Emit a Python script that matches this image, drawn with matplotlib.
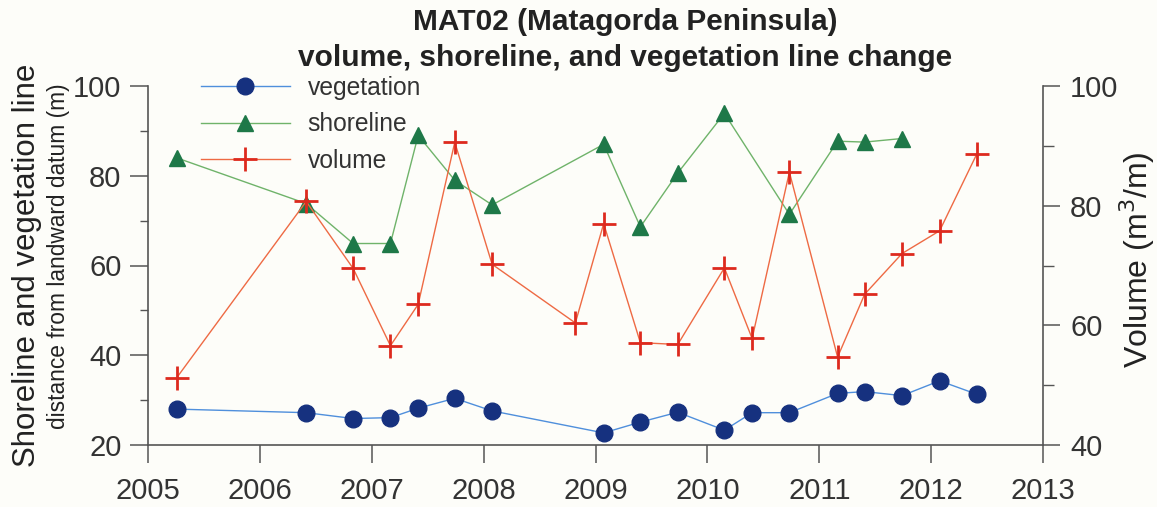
import matplotlib
matplotlib.use("Agg")
import matplotlib.pyplot as plt
from matplotlib.ticker import MultipleLocator

plt.rcParams['font.family'] = ['Liberation Sans', 'DejaVu Sans']

# ---- data ----
veg_dates = [2005.255, 2006.414, 2006.834, 2007.167, 2007.415, 2007.742, 2008.076,
             2009.073, 2009.401, 2009.735, 2010.152, 2010.400, 2010.733, 2011.164,
             2011.406, 2011.740, 2012.076, 2012.410]
veg_vals = [28.0, 27.2, 25.9, 26.1, 28.2, 30.4, 27.6,
            22.7, 25.1, 27.3, 23.3, 27.2, 27.2, 31.5,
            31.9, 31.0, 34.3, 31.3]

shore_dates = [2005.255, 2006.414, 2006.834, 2007.167, 2007.415, 2007.742, 2008.076,
               2009.073, 2009.401, 2009.735, 2010.152, 2010.733, 2011.164, 2011.406,
               2011.740]
shore_vals = [84.0, 73.8, 64.9, 64.9, 89.0, 79.0, 73.5,
              87.0, 68.6, 80.6, 93.9, 71.4, 87.7, 87.5,
              88.3]

vol_dates = [2005.255, 2006.414, 2006.834, 2007.167, 2007.415, 2007.742, 2008.076,
             2008.820, 2009.073, 2009.401, 2009.735, 2010.152, 2010.400, 2010.733,
             2011.164, 2011.406, 2011.740, 2012.076, 2012.410]
vol_vals = [51.2, 80.7, 69.5, 56.6, 63.5, 90.6, 70.2,
            60.4, 77.0, 57.1, 56.8, 69.6, 57.8, 85.6,
            54.7, 65.2, 72.0, 75.8, 88.7]

x_ticks = [2005, 2006, 2007, 2008, 2009, 2010, 2011, 2012, 2013]
left_ticks = [20, 40, 60, 80, 100]
right_ticks = [40, 60, 80, 100]

title_lines = ["MAT02 (Matagorda Peninsula)", "volume, shoreline, and vegetation line change"]
labels = ["vegetation", "shoreline", "volume"]

# ---- figure ----
W, H = 1157, 507
bg = '#fdfdf9'
fig = plt.figure(figsize=(W / 100, H / 100), dpi=100, facecolor=bg)
ax = fig.add_axes([148 / W, 1 - 445 / H, (1043 - 148) / W, (445 - 86) / H])
ax.set_facecolor('none')
ax2 = ax.twinx()
ax2.set_facecolor('none')

axis_col = '#555555'
veg_line, veg_mark = '#4f8fdc', '#16317f'
sh_line, sh_mark = '#6fb36a', '#1e7848'
vol_line, vol_mark = '#ee6a44', '#dd2a1e'

l1, = ax.plot(veg_dates, veg_vals, '-', color=veg_line, lw=1.0, marker='o', ms=12,
              mfc=veg_mark, mec=veg_mark, zorder=3)
l2, = ax.plot(shore_dates, shore_vals, '-', color=sh_line, lw=1.0, marker='^', ms=11.5,
              mfc=sh_mark, mec=sh_mark, zorder=3)
l3, = ax2.plot(vol_dates, vol_vals, '-', color=vol_line, lw=1.0, marker='+', ms=17,
               mec=vol_mark, mew=2.0, zorder=3)

ax.set_xlim(2005, 2013)
ax.set_ylim(20, 100)
ax2.set_ylim(40, 100)
ax.set_xticks(x_ticks)
ax.set_xticklabels([str(t) for t in x_ticks])
ax.set_yticks(left_ticks)
ax2.set_yticks(right_ticks)
ax.yaxis.set_minor_locator(MultipleLocator(10))
ax2.yaxis.set_minor_locator(MultipleLocator(10))

for a in (ax, ax2):
    a.spines['top'].set_visible(False)
    for s in a.spines.values():
        s.set_color(axis_col)
        s.set_linewidth(1.2)
ax.spines['right'].set_visible(False)
ax2.spines['left'].set_visible(False)
ax2.spines['bottom'].set_visible(False)

ax.tick_params(axis='x', which='major', direction='out', length=13, width=1.1,
               color=axis_col, labelsize=21, pad=10, labelcolor='#333333')
ax.tick_params(axis='y', which='major', direction='out', length=13, width=1.1,
               color=axis_col, labelsize=21, pad=6, labelcolor='#333333')
ax.tick_params(axis='y', which='minor', direction='out', length=6, width=1.0, color=axis_col)
ax2.tick_params(axis='y', which='major', direction='out', length=12.5, width=1.1,
                color=axis_col, labelsize=21, pad=7, labelcolor='#333333')
ax2.tick_params(axis='y', which='minor', direction='out', length=8, width=1.0, color=axis_col)

# titles and axis labels
fig.text(625 / W, 1 - 22 / H, title_lines[0], ha='center', va='center',
         fontsize=21.5, fontweight='bold', color='#222222')
fig.text(625 / W, 1 - 58 / H, title_lines[1], ha='center', va='center',
         fontsize=21.5, fontweight='bold', color='#222222')
fig.text(27 / W, 1 - 265 / H, "Shoreline and vegetation line", rotation=90,
         ha='center', va='center', fontsize=22.5, color='#222222')
fig.text(59 / W, 1 - 256 / H, "distance from landward datum (m)", rotation=90,
         ha='center', va='center', fontsize=16.4, color='#222222')
fig.text(1137 / W, 1 - 260 / H, "Volume (m$^3$/m)", rotation=90,
         ha='center', va='center', fontsize=23, color='#222222')

leg = fig.legend([l1, l2, l3], labels, loc='upper left',
                 bbox_to_anchor=(201 / W, 1 - 76 / H), frameon=False,
                 fontsize=17.7, handlelength=3.6, handletextpad=0.73,
                 labelspacing=0.5, borderpad=0, borderaxespad=0, numpoints=1)
for t in leg.get_texts():
    t.set_color('#333333')

fig.savefig('out.png', dpi=100, facecolor=bg)
